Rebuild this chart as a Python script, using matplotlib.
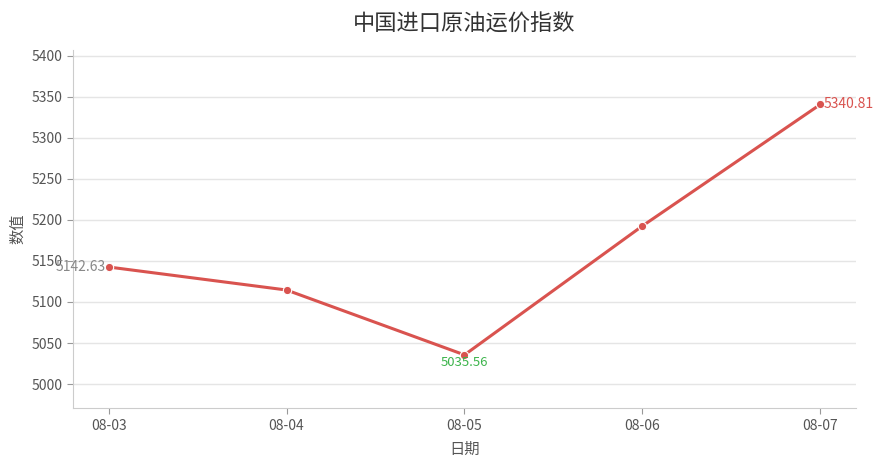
import matplotlib
matplotlib.use('Agg')
import matplotlib.pyplot as plt

plt.rcParams['font.family'] = ['Noto Sans CJK SC', 'DejaVu Sans']

# data
dates = ['08-03', '08-04', '08-05', '08-06', '08-07']
values = [5142.63, 5114.6, 5035.56, 5192.7, 5340.81]

line_color = '#d9534f'
text_color = '#555555'

fig = plt.figure(figsize=(8.84, 4.68), dpi=100)
ax = fig.add_axes([0.0826, 0.128, 0.8857, 0.765])

x = list(range(len(dates)))
ax.plot(x, values, color=line_color, linewidth=2.2, marker='o', markersize=6,
        markeredgecolor='white', markeredgewidth=0.8, zorder=3)

# start / min / max labels (the start label sits on the 5150 tick label, as in the reference)
ax.annotate(f'{values[0]:.2f}', (0, values[0]), xytext=(-2, 0), textcoords='offset points',
            ha='right', va='center', fontsize=10, color='#888888')
imin = values.index(min(values))
ax.annotate(f'{values[imin]:.2f}', (imin, values[imin]), xytext=(0, -1), textcoords='offset points',
            ha='center', va='top', fontsize=9.5, color='#3cb44b')
imax = values.index(max(values))
ax.annotate(f'{values[imax]:.2f}', (imax, values[imax]), xytext=(2, 0), textcoords='offset points',
            ha='left', va='center', fontsize=10, color='#d9534f')

ax.set_xlim(-0.2, 4.2)
ax.set_ylim(4970.7, 5407)
ax.set_xticks(x)
ax.set_xticklabels(dates)
ax.set_yticks(range(5000, 5401, 50))

ax.grid(axis='y', color='#e5e5e5', linewidth=1)
ax.set_axisbelow(True)
for s in ['top', 'right']:
    ax.spines[s].set_visible(False)
for s in ['left', 'bottom']:
    ax.spines[s].set_color('#cccccc')
ax.tick_params(colors=text_color, labelsize=10, length=4)
ax.tick_params(axis='both', color='#999999')

ax.set_xlabel('日期', fontsize=11, color=text_color, labelpad=6)
ax.set_ylabel('数值', fontsize=11, color=text_color, labelpad=4)
ax.set_title('中国进口原油运价指数', fontsize=16, color='#333333', pad=14)

fig.savefig('out.png', dpi=100)
